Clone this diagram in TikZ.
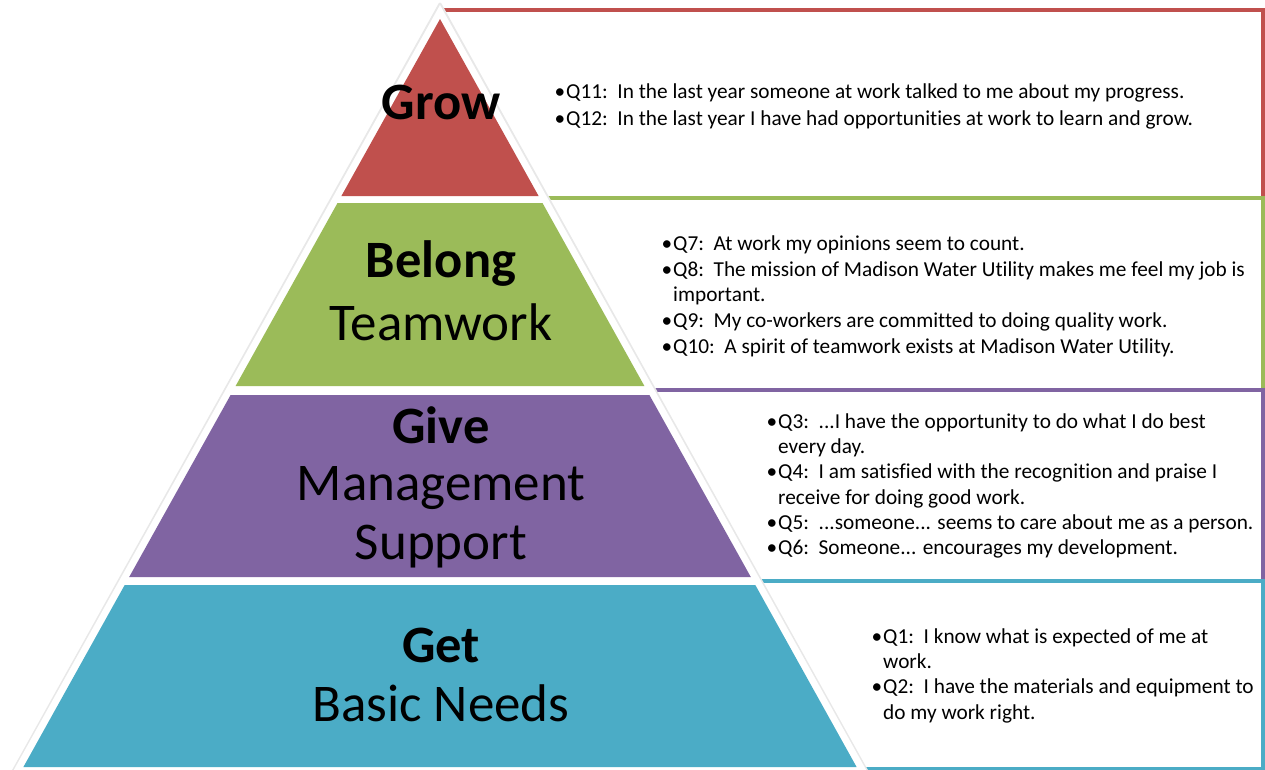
\documentclass[tikz,border=0pt]{standalone}
\usepackage{fontspec}
\setmainfont[Ligatures={NoCommon}]{Carlito}
\definecolor{cred}{HTML}{C0504D}
\definecolor{cgreen}{HTML}{9BBB59}
\definecolor{cpurple}{HTML}{8064A2}
\definecolor{cteal}{HTML}{4BACC6}
\newcommand{\bul}{\llap{\makebox[11.5pt][l]{•}}}
\newcommand{\fl}{\rule{0pt}{17pt}}
\begin{document}
\begin{tikzpicture}[x=1pt,y=-1pt,
  qbox/.style={line width=4pt},
  big/.style={anchor=base, inner sep=0pt, font=\fontsize{52.5}{60}\selectfont\bfseries},
  sub/.style={anchor=base, inner sep=0pt, font=\fontsize{53}{60}\selectfont},
  qtext/.style={anchor=north west, inner sep=0pt, align=left}]
\useasboundingbox (0,0) rectangle (1265,769);
% question boxes
\draw[qbox, draw=cred] (440,10) rectangle (1263,198);
\draw[qbox, draw=cgreen] (440,198) rectangle (1263,390);
\draw[qbox, draw=cpurple] (440,390) rectangle (1263,581);
\draw[qbox, draw=cteal] (440,581) rectangle (1263,769);
% white triangle with shadow
\draw[black!9, line width=3pt, line join=round] (440,4) -- (11,775) -- (869,775) -- cycle;
\fill[white] (440,5) -- (11,775) -- (869,775) -- cycle;
% tiers
\fill[cred] (440,19) -- (341.4,196) -- (538.6,196) -- cycle;
\fill[cgreen] (337.5,203) -- (542.5,203) -- (644.4,386) -- (235.6,386) -- cycle;
\fill[cpurple] (230.6,395) -- (649.4,395) -- (750.8,577) -- (129.2,577) -- cycle;
\fill[cteal] (124.7,585) -- (755.3,585) -- (856.6,767) -- (23.4,767) -- cycle;
% tier labels
\node[big] (grow) at (441,119) {Grow};
\node[big] (belong) at (441,277) {Belong};
\node[sub] (teamwork) at (441,340) {Teamwork};
\node[big] (give) at (441,443) {Give};
\node[sub] (mgmt) at (441,500) {Management};
\node[sub] (support) at (441,559) {Support};
\node[big] (get) at (441,662) {Get};
\node[sub] (basic) at (441,721) {Basic Needs};
% questions
\node[qtext, font=\fontsize{21.3}{27}\selectfont] (qred) at (566,81) {%
\fl\bul Q11:\ \ In the last year someone at work talked to me about my progress.\\
\bul Q12:\ \ In the last year I have had opportunities at work to learn and grow.};
\node[qtext, font=\fontsize{21.3}{25.8}\selectfont] (qgreen) at (673,233) {%
\fl\bul Q7:\ \ At work my opinions seem to count.\\
\bul Q8:\ \ The mission of Madison Water Utility makes me feel my job is\\
important.\\
\bul Q9:\ \ My co-workers are committed to doing quality work.\\
\bul Q10:\ \ A spirit of teamwork exists at Madison Water Utility.};
\node[qtext, font=\fontsize{21.3}{25.3}\selectfont] (qpurple) at (778,411) {%
\fl\bul Q3:\ \ ...I have the opportunity to do what I do best\\
every day.\\
\bul Q4:\ \ I am satisfied with the recognition and praise I\\
receive for doing good work.\\
\bul Q5:\ \ ...someone... seems to care about me as a person.\\
\bul Q6:\ \ Someone... encourages my development.};
\node[qtext, font=\fontsize{21.3}{25.3}\selectfont] (qteal) at (883,626) {%
\fl\bul Q1:\ \ I know what is expected of me at\\
work.\\
\bul Q2:\ \ I have the materials and equipment to\\
do my work right.};
\end{tikzpicture}
\end{document}
